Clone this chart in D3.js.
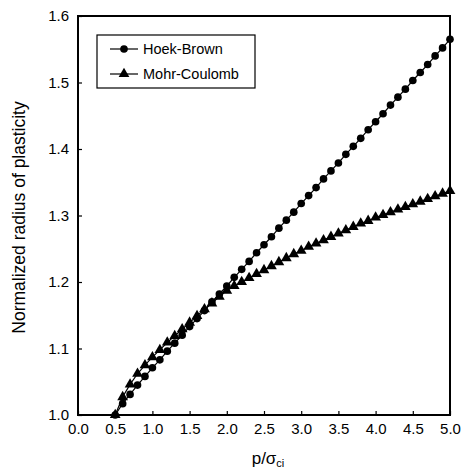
<!DOCTYPE html>
<html>
<head>
<meta charset="utf-8">
<script src="https://cdn.jsdelivr.net/npm/d3@7"></script>
<style>
  body { margin: 0; background: #fff; }
  text { font-family: "Liberation Sans", Arial, sans-serif; fill: #000; }
</style>
</head>
<body>
<div id="chart"></div>
<script>
const width = 462;
const height = 472;
const margin = { top: 16, right: 12, bottom: 57, left: 78 };

const ratio = [0.5, 0.6, 0.7, 0.8, 0.9, 1.0, 1.1, 1.2, 1.3, 1.4, 1.5, 1.6, 1.7, 1.8, 1.9,
  2.0, 2.1, 2.2, 2.3, 2.4, 2.5, 2.6, 2.7, 2.8, 2.9, 3.0, 3.1, 3.2, 3.3, 3.4, 3.5,
  3.6, 3.7, 3.8, 3.9, 4.0, 4.1, 4.2, 4.3, 4.4, 4.5, 4.6, 4.7, 4.8, 4.9, 5.0];

const hoekBrown = [1.000, 1.017, 1.031, 1.045, 1.058, 1.071, 1.083, 1.096, 1.108, 1.120,
  1.133, 1.145, 1.157, 1.170, 1.182, 1.194, 1.207, 1.219, 1.231, 1.244, 1.256,
  1.268, 1.281, 1.293, 1.305, 1.318, 1.330, 1.342, 1.355, 1.367, 1.379, 1.392,
  1.404, 1.416, 1.429, 1.441, 1.453, 1.466, 1.478, 1.490, 1.503, 1.515, 1.527,
  1.540, 1.552, 1.565];

const mohrCoulomb = [1.000, 1.027, 1.046, 1.062, 1.075, 1.087, 1.098, 1.109, 1.119, 1.129,
  1.139, 1.149, 1.159, 1.168, 1.178, 1.187, 1.194, 1.200, 1.206, 1.212, 1.218,
  1.224, 1.230, 1.236, 1.242, 1.247, 1.253, 1.258, 1.263, 1.268, 1.273, 1.278,
  1.283, 1.288, 1.292, 1.297, 1.301, 1.305, 1.309, 1.313, 1.317, 1.321, 1.325,
  1.329, 1.333, 1.337];

const xTicks = [0, 0.5, 1, 1.5, 2, 2.5, 3, 3.5, 4, 4.5, 5];
const yTicks = [1.0, 1.1, 1.2, 1.3, 1.4, 1.5, 1.6];
const seriesNames = ["Hoek-Brown", "Mohr-Coulomb"];

const svg = d3.select("#chart").append("svg")
  .attr("width", width)
  .attr("height", height);

const x = d3.scaleLinear().domain([0, 5]).range([margin.left, width - margin.right]);
const y = d3.scaleLinear().domain([1.0, 1.6]).range([height - margin.bottom, margin.top]);

// axes, ticks pointing inward
const xAxis = svg.append("g")
  .attr("transform", `translate(0,${height - margin.bottom})`)
  .call(d3.axisBottom(x).tickValues(xTicks).tickFormat(d3.format(".1f"))
    .tickSizeInner(-4).tickSizeOuter(0).tickPadding(8));

const yAxis = svg.append("g")
  .attr("transform", `translate(${margin.left},0)`)
  .call(d3.axisLeft(y).tickValues(yTicks).tickFormat(d3.format(".1f"))
    .tickSizeInner(-4).tickSizeOuter(0).tickPadding(9));

[xAxis, yAxis].forEach((g) => {
  g.select(".domain").remove();
  g.selectAll("line").attr("stroke", "#000").attr("stroke-width", 1.2);
  g.selectAll("text").attr("font-size", 15).attr("fill", "#000")
    .attr("font-family", '"Liberation Sans", Arial, sans-serif');
});

// frame
svg.append("rect")
  .attr("x", x(0))
  .attr("y", y(1.6))
  .attr("width", x(5) - x(0))
  .attr("height", y(1.0) - y(1.6))
  .attr("fill", "none")
  .attr("stroke", "#000")
  .attr("stroke-width", 2);

// series
const hbData = ratio.map((r, i) => ({ x: r, y: hoekBrown[i] }));
const mcData = ratio.map((r, i) => ({ x: r, y: mohrCoulomb[i] }));

const line = d3.line().x((d) => x(d.x)).y((d) => y(d.y));

const circleSym = d3.symbol().type(d3.symbolCircle).size(46);
const triSym = d3.symbol().type(d3.symbolTriangle).size(50);

function drawSeries(data, sym) {
  const g = svg.append("g");
  g.append("path")
    .datum(data)
    .attr("d", line)
    .attr("fill", "none")
    .attr("stroke", "#000")
    .attr("stroke-width", 1.2);
  g.selectAll("path.mk")
    .data(data)
    .enter()
    .append("path")
    .attr("class", "mk")
    .attr("d", sym)
    .attr("transform", (d) => `translate(${x(d.x)},${y(d.y)})`)
    .attr("fill", "#000");
}

drawSeries(mcData, triSym);
drawSeries(hbData, circleSym);

// legend
const legend = svg.append("g").attr("transform", "translate(97,35)");
legend.append("rect")
  .attr("width", 158)
  .attr("height", 53)
  .attr("fill", "#fff")
  .attr("stroke", "#000")
  .attr("stroke-width", 1.2);

[circleSym, triSym].forEach((sym, i) => {
  const row = legend.append("g").attr("transform", `translate(0,${14 + i * 25})`);
  row.append("line")
    .attr("x1", 13).attr("x2", 41)
    .attr("stroke", "#000").attr("stroke-width", 1.2);
  row.append("path")
    .attr("d", sym)
    .attr("transform", "translate(27,0)")
    .attr("fill", "#000");
  row.append("text")
    .attr("x", 46)
    .attr("dy", "0.36em")
    .attr("font-size", 14.5)
    .text(seriesNames[i]);
});

// axis titles
const xTitle = svg.append("text")
  .attr("x", (x(0) + x(5)) / 2 + 4)
  .attr("y", 464)
  .attr("text-anchor", "middle")
  .attr("font-size", 17);
xTitle.append("tspan").text("p/σ");
xTitle.append("tspan").attr("font-size", 11).attr("dy", 3).text("ci");

svg.append("text")
  .attr("transform", `translate(25,${(y(1.0) + y(1.6)) / 2 + 2}) rotate(-90)`)
  .attr("text-anchor", "middle")
  .attr("font-size", 17.5)
  .text("Normalized radius of plasticity");
</script>
</body>
</html>
